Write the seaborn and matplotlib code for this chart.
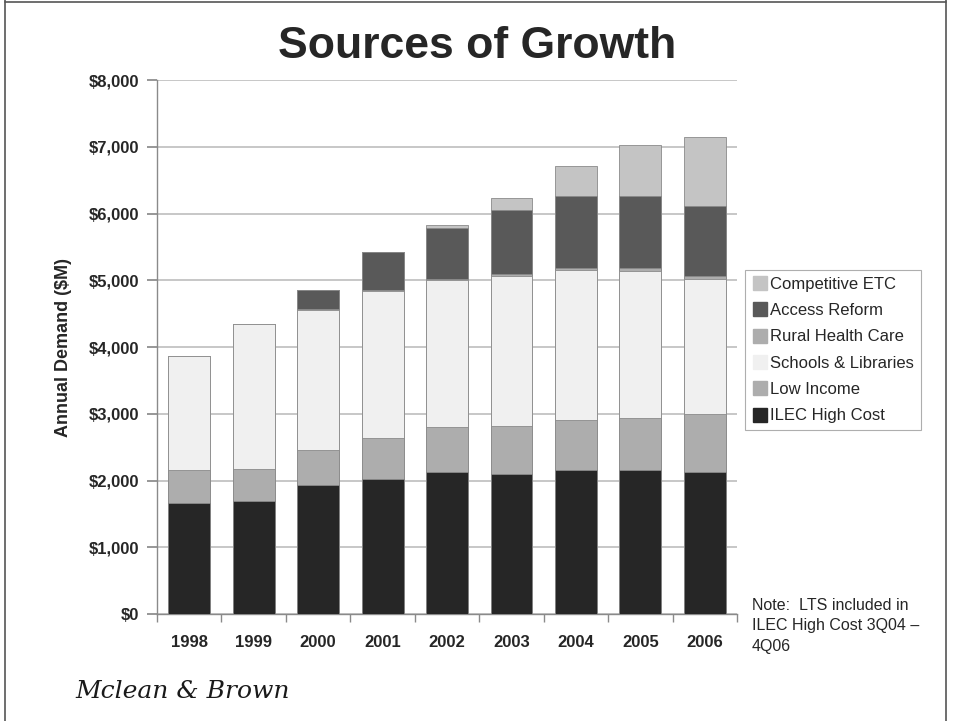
import numpy as np
import pandas as pd
import matplotlib
matplotlib.use("Agg")
import matplotlib.pyplot as plt
import matplotlib.lines as mlines
import seaborn as sns

# dados (milhões de US$)
years = ["1998", "1999", "2000", "2001", "2002", "2003", "2004", "2005", "2006"]
ilec_high_cost = [1665, 1690, 1935, 2025, 2125, 2095, 2150, 2150, 2125]
low_income = [485, 485, 525, 605, 675, 725, 750, 790, 865]
schools_libraries = [1710, 2165, 2100, 2210, 2200, 2250, 2260, 2200, 2030]
rural_health_care = [0, 0, 5, 10, 15, 20, 20, 45, 50]
access_reform = [0, 0, 285, 580, 775, 970, 1080, 1075, 1040]
competitive_etc = [0, 0, 0, 0, 40, 180, 450, 760, 1030]

series_names = ["ILEC High Cost", "Low Income", "Schools & Libraries",
                "Rural Health Care", "Access Reform", "Competitive ETC"]
series_vals = [ilec_high_cost, low_income, schools_libraries,
               rural_health_care, access_reform, competitive_etc]
colors = ["#262626", "#adadad", "#f0f0f0", "#adadad", "#595959", "#c4c4c4"]

y_ticks = [0, 1000, 2000, 3000, 4000, 5000, 6000, 7000, 8000]

sns.set_theme(style="white")
plt.rcParams["font.family"] = ["Liberation Sans", "DejaVu Sans"]

fig = plt.figure(figsize=(9.54, 7.21), dpi=100)
ax = fig.add_axes([0.1646, 0.1484, 0.608, 0.7406])

# barras empilhadas: desenha o acumulado, do topo para baixo
cum = np.cumsum(np.array(series_vals), axis=0)
for i in range(len(series_names) - 1, -1, -1):
    df = pd.DataFrame({"Ano": years, "Valor": cum[i]})
    sns.barplot(data=df, x="Ano", y="Valor", color=colors[i], width=0.65,
                edgecolor="#8a8a8a", linewidth=0.6, saturation=1, ax=ax, zorder=3)

ax.set_ylim(0, 8000)
ax.set_xlim(-0.5, len(years) - 0.5)
ax.set_yticks(y_ticks)
ax.set_yticklabels([f"${v:,}" for v in y_ticks], fontsize=12, fontweight="bold")
ax.set_xticks(np.arange(len(years)))
ax.set_xticklabels(years, fontsize=12, fontweight="bold")
ax.yaxis.grid(True, color="#bdbdbd", linewidth=1.2, zorder=0)
ax.set_axisbelow(True)

for s in ["top", "right"]:
    ax.spines[s].set_visible(False)
for s in ["left", "bottom"]:
    ax.spines[s].set_color("#8a8a8a")
    ax.spines[s].set_linewidth(1)

# ticks do eixo x nas fronteiras das categorias
ax.set_xticks(np.arange(len(years) + 1) - 0.5, minor=True)
ax.tick_params(axis="x", which="major", length=0, pad=15)
ax.tick_params(axis="x", which="minor", length=6, color="#8a8a8a", direction="out", bottom=True)
ax.tick_params(axis="y", length=7, color="#8a8a8a", direction="out", left=True, pad=6)

ax.set_xlabel("")
ax.set_ylabel("Annual Demand ($M)", fontsize=13, fontweight="bold", labelpad=12)

# legenda na ordem inversa (Competitive ETC em cima)
handles = [mlines.Line2D([], [], marker="s", linestyle="none", markersize=10,
                         markerfacecolor=c, markeredgecolor=c) for c in colors]
leg = fig.legend(handles[::-1], series_names[::-1], loc="upper left",
                 bbox_to_anchor=(745 / 954, 1 - 270 / 721), fontsize=12,
                 frameon=True, fancybox=False, edgecolor="#9a9a9a",
                 handletextpad=0.1, handlelength=1.0, labelspacing=0.68,
                 borderpad=0.4, borderaxespad=0)
leg.get_frame().set_linewidth(0.8)

fig.text(0.5, 1 - 46 / 721, "Sources of Growth", ha="center", va="center",
         fontsize=32, fontweight="bold")

fig.text(752 / 954, 1 - 598 / 721, "Note:  LTS included in\nILEC High Cost 3Q04 \u2013\n4Q06",
         ha="left", va="top", fontsize=11.5, linespacing=1.45)

fig.text(75 / 954, 1 - 692 / 721, "Mclean & Brown", ha="left", va="center",
         fontsize=18, style="italic", family=["DejaVu Serif"], color="#1a1a1a")

# moldura do slide
for xs, ys in [([5, 5], [0, 721]), ([5, 946], [719, 719]), ([946, 946], [0, 721])]:
    fig.add_artist(mlines.Line2D(np.array(xs) / 954, np.array(ys) / 721,
                                 color="#555555", linewidth=1.2))

fig.savefig("out.png", dpi=100)
